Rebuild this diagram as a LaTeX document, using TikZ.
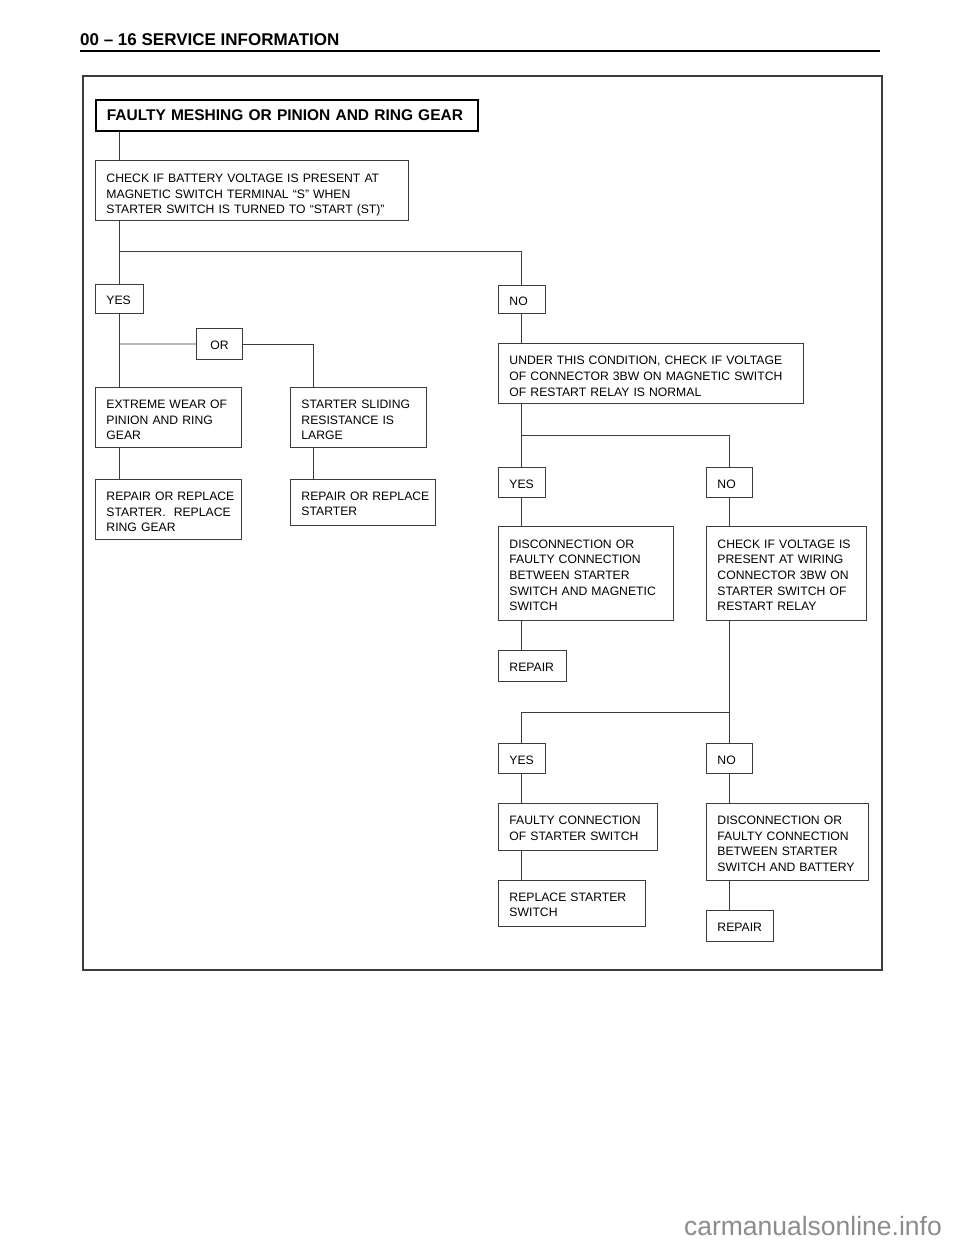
\documentclass[tikz,border=0pt]{standalone}
\usepackage{fontspec}
\setmainfont{Liberation Sans}
\definecolor{linegray}{HTML}{3C3C3C}
\definecolor{markgray}{HTML}{8C8C8C}
\newcommand{\rows}[2][7pt]{\raisebox{0pt}[\dimexpr\height+#1\relax][\depth]{\begin{tabular}{@{}l@{}}#2\end{tabular}}}
\tikzset{
  box/.style={draw=linegray, line width=0.9pt, anchor=north west, align=left,
    inner xsep=11pt, inner ysep=0pt, font=\fontsize{12.2}{15.6}\selectfont},
  link/.style={draw=linegray, line width=0.9pt},
}
\begin{document}
\begin{tikzpicture}[x=1pt, y=-1pt]
      \useasboundingbox (0,0) rectangle (960,1242);
      % page header and frame
      \node[anchor=base west, inner sep=0pt, font=\bfseries\fontsize{17}{20}\selectfont] (hdr) at (80,45) {00 -- 16 SERVICE INFORMATION};
      \draw[line width=2.2pt] (80,51) -- (880,51);
      \draw[draw=linegray, line width=1.2pt] (83,76) rectangle (882,970);
      % boxes
      \node[box, draw=black, line width=1.6pt, text width=360pt, minimum height=31pt,
        font=\bfseries\fontsize{15.5}{18}\selectfont] (title) at (95,99) {FAULTY MESHING OR PINION AND RING GEAR};
      \node[box, text width=291pt, minimum height=60pt] (chk) at (95,160)
        {\rows[9pt]{CHECK IF BATTERY VOLTAGE IS PRESENT AT\\MAGNETIC SWITCH TERMINAL “S” WHEN\\STARTER SWITCH IS TURNED TO “START (ST)”}};
      \node[box, text width=26pt, minimum height=29pt] (yes1) at (95,284) {\rows[5pt]{YES}};
      \node[box, text width=25pt, minimum height=28pt] (no1) at (498,285) {\rows[5pt]{NO}};
      \node[box, text width=24pt, minimum height=31pt, align=center] (orn) at (196,328) {\rows[5pt]{OR}};
      \node[box, text width=124pt, minimum height=60pt] (wear) at (95,387) {\rows{EXTREME WEAR OF\\PINION AND RING\\GEAR}};
      \node[box, text width=114pt, minimum height=60pt] (slide) at (290,387) {\rows{STARTER SLIDING\\RESISTANCE IS\\LARGE}};
      \node[box, text width=124pt, minimum height=60pt] (rep1) at (95,479) {\rows{REPAIR OR REPLACE\\STARTER.\ \ REPLACE\\RING GEAR}};
      \node[box, text width=123pt, minimum height=46pt] (rep2) at (290,479) {\rows[5pt]{REPAIR OR REPLACE\\STARTER}};
      \node[box, text width=283pt, minimum height=60pt] (under) at (498,343)
        {\rows[8pt]{UNDER THIS CONDITION, CHECK IF VOLTAGE\\OF CONNECTOR 3BW ON MAGNETIC SWITCH\\OF RESTART RELAY IS NORMAL}};
      \node[box, text width=25pt, minimum height=30pt] (yes2) at (498,467) {\rows[5pt]{YES}};
      \node[box, text width=24pt, minimum height=30pt] (no2) at (706,467) {\rows[5pt]{NO}};
      \node[box, text width=153pt, minimum height=94pt] (disc1) at (498,526)
        {\rows[6pt]{DISCONNECTION OR\\FAULTY CONNECTION\\BETWEEN STARTER\\SWITCH AND MAGNETIC\\SWITCH}};
      \node[box, text width=138pt, minimum height=94pt] (volt) at (706,526)
        {\rows[6pt]{CHECK IF VOLTAGE IS\\PRESENT AT WIRING\\CONNECTOR 3BW ON\\STARTER SWITCH OF\\RESTART RELAY}};
      \node[box, text width=46pt, minimum height=31pt] (repair1) at (498,650) {\rows[5pt]{REPAIR}};
      \node[box, text width=25pt, minimum height=30pt] (yes3) at (498,743) {\rows[5pt]{YES}};
      \node[box, text width=24pt, minimum height=30pt] (no3) at (706,743) {\rows[5pt]{NO}};
      \node[box, text width=137pt, minimum height=47pt] (faulty) at (498,803) {\rows[5pt]{FAULTY CONNECTION\\OF STARTER SWITCH}};
      \node[box, text width=140pt, minimum height=77pt] (disc2) at (706,803)
        {\rows[6pt]{DISCONNECTION OR\\FAULTY CONNECTION\\BETWEEN STARTER\\SWITCH AND BATTERY}};
      \node[box, text width=125pt, minimum height=46pt] (replace) at (498,880) {\rows[5pt]{REPLACE STARTER\\SWITCH}};
      \node[box, text width=45pt, minimum height=31pt] (repair2) at (706,910) {\rows[5pt]{REPAIR}};
      % junctions
      \coordinate (j1) at (119,251);
      \coordinate (j2) at (119,344);
      \coordinate (j3) at (521,435);
      \coordinate (j4) at (729,712);
      % connectors
      \begin{scope}[link]
        \draw ([xshift=24pt]title.south west) to ([xshift=24pt]chk.north west);
        \draw ([xshift=24pt]chk.south west) to ([xshift=24pt]yes1.north west);
        \draw (j1) -| ([xshift=23pt]no1.north west);
        \draw ([xshift=24pt]yes1.south west) to ([xshift=24pt]wear.north west);
        \draw (j2) to (orn.west);
        \draw (orn.east) -| ([xshift=23pt]slide.north west);
        \draw ([xshift=24pt]wear.south west) to ([xshift=24pt]rep1.north west);
        \draw ([xshift=23pt]slide.south west) to ([xshift=23pt]rep2.north west);
        \draw ([xshift=23pt]no1.south west) to ([xshift=23pt]under.north west);
        \draw ([xshift=23pt]under.south west) to ([xshift=23pt]yes2.north west);
        \draw (j3) -| ([xshift=23pt]no2.north west);
        \draw ([xshift=23pt]yes2.south west) to ([xshift=23pt]disc1.north west);
        \draw ([xshift=23pt]no2.south west) to ([xshift=23pt]volt.north west);
        \draw ([xshift=23pt]disc1.south west) to ([xshift=23pt]repair1.north west);
        \draw ([xshift=23pt]volt.south west) to ([xshift=23pt]no3.north west);
        \draw (j4) -| ([xshift=23pt]yes3.north west);
        \draw ([xshift=23pt]yes3.south west) to ([xshift=23pt]faulty.north west);
        \draw ([xshift=23pt]faulty.south west) to ([xshift=23pt]replace.north west);
        \draw ([xshift=23pt]no3.south west) to ([xshift=23pt]disc2.north west);
        \draw ([xshift=23pt]disc2.south west) to ([xshift=23pt]repair2.north west);
      \end{scope}
      % watermark
      \node[anchor=base east, inner sep=0pt, text=markgray, font=\fontsize{26.5}{30}\selectfont] (mark) at (942,1235) {carmanualsonline.info};
    \end{tikzpicture}
\end{document}
